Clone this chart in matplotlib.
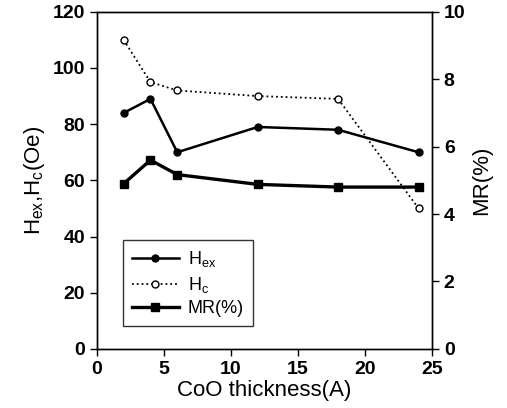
import matplotlib
matplotlib.use("Agg")
import matplotlib.pyplot as plt

plt.rcParams['font.family'] = ['Liberation Sans', 'DejaVu Sans']
plt.rcParams['mathtext.fontset'] = 'custom'
plt.rcParams['mathtext.rm'] = 'Liberation Sans'

thickness = [2, 4, 6, 12, 18, 24]
hex_vals = [84, 89, 70, 79, 78, 70]
hc_vals = [110, 95, 92, 90, 89, 50]
mr_vals = [4.9, 5.6, 5.17, 4.88, 4.8, 4.8]

fig = plt.figure(figsize=(5.07, 4.08), dpi=100)
ax = fig.add_axes([0.191, 0.145, 0.661, 0.826])
ax2 = ax.twinx()

l1, = ax.plot(thickness, hex_vals, '-', color='black', lw=1.8, marker='o', ms=5, label=r'H$_{\mathrm{ex}}$')
l2, = ax.plot(thickness, hc_vals, ':', color='black', lw=1.3, marker='o', ms=5, mfc='white', mec='black', label=r'H$_{\mathrm{c}}$')
l3, = ax2.plot(thickness, mr_vals, '-', color='black', lw=2.4, marker='s', ms=6, label='MR(%)')

ax.set_xlim(0, 25)
ax.set_ylim(0, 120)
ax2.set_ylim(0, 10)
ax.set_xticks([0, 5, 10, 15, 20, 25])
ax.set_yticks([0, 20, 40, 60, 80, 100, 120])
ax2.set_yticks([0, 2, 4, 6, 8, 10])

for a in (ax, ax2):
    a.tick_params(direction='out', length=5, width=1, labelsize=14)
    for lab in a.get_xticklabels() + a.get_yticklabels():
        lab.set_fontweight('bold')
    for s in a.spines.values():
        s.set_linewidth(1.0)

ax.set_xlabel('CoO thickness(A)', fontsize=16, labelpad=2)
ax.set_ylabel(r'H$_{\mathrm{ex}}$,H$_{\mathrm{c}}$(Oe)', fontsize=16)
ax2.set_ylabel('MR(%)', fontsize=16)

leg = ax.legend(handles=[l1, l2, l3], loc='lower left', bbox_to_anchor=(0.05, 0.04),
                fontsize=13, frameon=True, fancybox=False, edgecolor='black',
                handlelength=2.6, borderpad=0.5, labelspacing=0.3, handletextpad=0.5)
leg.get_frame().set_linewidth(1.0)

fig.savefig('out.png', dpi=100)
